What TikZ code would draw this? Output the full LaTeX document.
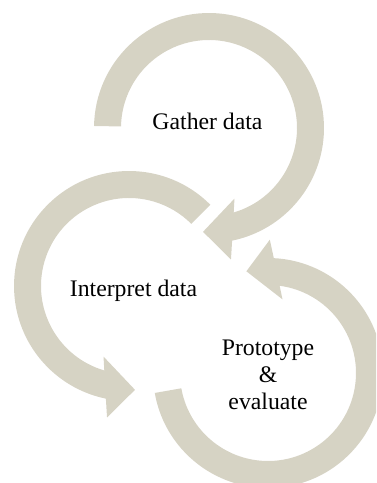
\documentclass[tikz,border=0pt]{standalone}
\usepackage{fontspec}
\setmainfont{Liberation Serif}
\definecolor{ringcol}{RGB}{214,211,196}
\tikzset{
  ring/.style={fill=ringcol, draw=none},
  lbl/.style={font=\fontsize{17.8}{20.25}\selectfont, align=center, text=black, inner sep=0pt}
}
\begin{document}
\begin{tikzpicture}[x=0.75pt,y=0.75pt]
\useasboundingbox (0,0) rectangle (376,483);
\clip (0,0) rectangle (376,483);
% Gather data ring (clockwise)
\begin{scope}[shift={(209,355)}, rotate=-93.3, yscale=-1]
  \fill[ring] (-272.3:115) arc[start angle=-272.3, end angle=-14.9, radius=115]
    -- (130,-29.5) -- (104,0) -- (69,-29.5) -- (-19.6:88)
    arc[start angle=-19.6, end angle=-272.3, radius=88] -- cycle;
\end{scope}
% Interpret data ring (counter-clockwise)
\begin{scope}[shift={(129,197)}, rotate=273.3]
  \fill[ring] (-228.3:115) arc[start angle=-228.3, end angle=-14.9, radius=115]
    -- (130,-29.5) -- (104,0) -- (69,-29.5) -- (-19.6:88)
    arc[start angle=-19.6, end angle=-228.3, radius=88] -- cycle;
\end{scope}
% Prototype & evaluate ring (counter-clockwise)
\begin{scope}[shift={(268,110)}, rotate=102]
  \fill[ring] (-272:115) arc[start angle=-272, end angle=-14.9, radius=115]
    -- (130,-29.5) -- (104,0) -- (69,-29.5) -- (-19.6:88)
    arc[start angle=-19.6, end angle=-272, radius=88] -- cycle;
\end{scope}
\node[lbl, anchor=base] (gather) at (207.5,353) {Gather data};
\node[lbl, anchor=base] (interpret) at (133.5,186) {Interpret data};
\node[lbl, anchor=center] (proto) at (268,108) {Prototype\\\&\\evaluate};
\end{tikzpicture}
\end{document}
